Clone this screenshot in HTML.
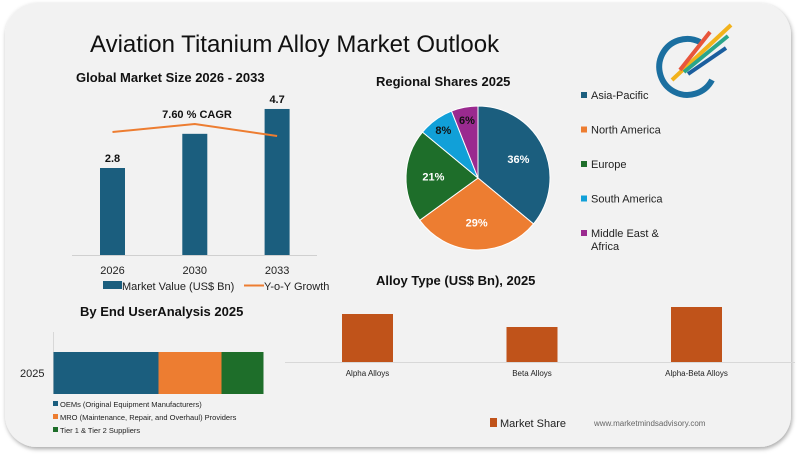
<!DOCTYPE html>
<html><head><meta charset="utf-8"><style>
body{margin:0;width:800px;height:454px;background:#fff;font-family:"Liberation Sans",sans-serif;overflow:hidden}
svg text{font-family:"Liberation Sans",sans-serif}
</style></head><body>
<svg id="s" width="800" height="454" viewBox="0 0 800 454">
<defs><filter id="sh" x="-5%" y="-5%" width="110%" height="110%"><feDropShadow dx="1" dy="2" stdDeviation="2" flood-color="#000" flood-opacity="0.35"/></filter></defs>
<rect x="5" y="3" width="786" height="444" rx="32" fill="#f2f2f2" filter="url(#sh)"/>
<text x="90" y="52" font-size="24" fill="#111">Aviation Titanium Alloy Market Outlook</text>
<g>
<path d="M700 42 A28 28 0 1 0 712 80" fill="none" stroke="#1b6fa0" stroke-width="6"/>
<line x1="672" y1="80" x2="731" y2="25" stroke="#f2b21b" stroke-width="4"/>
<line x1="680" y1="70" x2="710" y2="32" stroke="#e8553b" stroke-width="4"/>
<line x1="684" y1="72" x2="728" y2="36" stroke="#2aa58a" stroke-width="4"/>
<line x1="688" y1="74" x2="726" y2="48" stroke="#1b5e9e" stroke-width="4"/>
</g>
<text x="76" y="82" font-size="13" font-weight="bold" fill="#111">Global Market Size 2026 - 2033</text>
<text x="376" y="86" font-size="13" font-weight="bold" fill="#111">Regional Shares 2025</text>
<text x="376" y="285" font-size="13" font-weight="bold" fill="#111">Alloy Type (US$ Bn), 2025</text>
<text x="80" y="316" font-size="13" font-weight="bold" fill="#111">By End UserAnalysis 2025</text>
<line x1="72" y1="255.5" x2="317" y2="255.5" stroke="#d0d0d0"/>
<text x="197" y="118" font-size="11" font-weight="bold" text-anchor="middle" fill="#111">7.60 % CAGR</text>
<g id="bars"></g>
<g>
<rect x="103" y="281" width="19" height="8" fill="#1b5e7e"/><text x="122" y="290" font-size="11" fill="#222">Market Value (US$ Bn)</text>
<line x1="244" y1="285.5" x2="264" y2="285.5" stroke="#ed7d31" stroke-width="2"/><text x="264" y="290" font-size="11" fill="#222">Y-o-Y Growth</text>
</g>
<g id="pie"></g>
<g id="pieleg"></g>
<g id="alloy"></g>
<line x1="285" y1="362.5" x2="795" y2="362.5" stroke="#d8d8d8"/>
<rect x="490" y="418" width="7" height="9" fill="#c0531a"/>
<text x="500" y="427" font-size="11" fill="#222">Market Share</text>
<text x="594" y="426" font-size="8" fill="#666">www.marketmindsadvisory.com</text>
<line x1="53.5" y1="332" x2="53.5" y2="394" stroke="#d8d8d8"/>
<text x="20" y="377" font-size="11" fill="#222">2025</text>
<g id="stack"></g>
<g id="stackleg"></g>
</svg>
<script>
const years=["2026","2030","2033"];
const marketValues=[2.8,3.9,4.7];
const valueLabels=["2.8","","4.7"];
const growth=[4.3,4.6,4.15];
const regions=["Asia-Pacific","North America","Europe","South America","Middle East & Africa"];
const regionShares=[36,29,21,8,6];
const alloyTypes=["Alpha Alloys","Beta Alloys","Alpha-Beta Alloys"];
const alloyValues=[0.48,0.35,0.55];
const endUsers=["OEMs (Original Equipment Manufacturers)","MRO (Maintenance, Repair, and Overhaul) Providers","Tier 1 & Tier 2 Suppliers"];
const endUserShares=[50,30,20];

const NS="http://www.w3.org/2000/svg";
function mk(tag,attrs,parent,txt){const e=document.createElementNS(NS,tag);for(const k in attrs)e.setAttribute(k,attrs[k]);if(txt!==undefined)e.textContent=txt;parent.appendChild(e);return e;}

// bar chart
const bx=i=>112.5+i*82.3, by=v=>255-v*31.07, gy=v=>132-(v-4.3)*26.7;
const bars=document.getElementById('bars');
marketValues.forEach((v,i)=>{
 const r=mk('rect',{x:bx(i)-12.5,y:by(v),width:25,height:255-by(v),fill:'#1b5e7e'},bars);
 
 
 if(valueLabels[i]){const t=mk('text',{x:bx(i),y:by(v)-6,'font-size':11,'font-weight':'bold','text-anchor':'middle',fill:'#111'},bars,valueLabels[i]);
 
 }
 const yl=mk('text',{x:bx(i),y:274,'font-size':11,'text-anchor':'middle',fill:'#222'},bars,years[i]);
 
 
});
const gl=mk('polyline',{points:growth.map((g,i)=>bx(i)+','+gy(g)).join(' '),fill:'none',stroke:'#ed7d31','stroke-width':2},bars);



// pie
const pcols=['#1b5e7e','#ed7d31','#1e6e2a','#11a0d8','#9a2a8f'];
const cx=478,cy=178,R=72;
const pie=document.getElementById('pie'), pl=document.getElementById('pieleg');
const tot=regionShares.reduce((a,b)=>a+b,0);
let a0=-Math.PI/2;
regionShares.forEach((v,i)=>{
 const a1=a0+v/tot*2*Math.PI;
 const large=(a1-a0)>Math.PI?1:0;
 const p=mk('path',{d:`M${cx},${cy} L${cx+R*Math.cos(a0)},${cy+R*Math.sin(a0)} A${R},${R} 0 ${large} 1 ${cx+R*Math.cos(a1)},${cy+R*Math.sin(a1)} Z`,fill:pcols[i],stroke:'#fff','stroke-width':1},pie);
 
 
 const am=(a0+a1)/2, lr=v<10?R*0.82:R*0.62;
 const t=mk('text',{x:cx+lr*Math.cos(am),y:cy+lr*Math.sin(am)+4,'font-size':11,'font-weight':'bold','text-anchor':'middle',fill:v<10?'#111':'#fff'},pie,v+'%');
 
 
 a0=a1;
 const ly=98+i*34.5;
 const g=mk('g',{},pl);
 
 
 mk('rect',{x:581,y:ly-6,width:6,height:6,fill:pcols[i]},g);
 if(i===4){mk('text',{x:591,y:ly+1,'font-size':11,fill:'#222'},g,'Middle East &');mk('text',{x:591,y:ly+14,'font-size':11,fill:'#222'},g,'Africa');}
 else mk('text',{x:591,y:ly+1,'font-size':11,fill:'#222'},g,regions[i]);
});

// alloy bars
const al=document.getElementById('alloy');
const ax=i=>367.5+i*164.5, ah=v=>v*100;
alloyValues.forEach((v,i)=>{
 const r=mk('rect',{x:ax(i)-25.5,y:362-ah(v),width:51,height:ah(v),fill:'#c0531a'},al);
 
 
 const t=mk('text',{x:ax(i),y:376,'font-size':8,'text-anchor':'middle',fill:'#222'},al,alloyTypes[i]);
 
 
});

// stacked bar
const scols=['#1b5e7e','#ed7d31','#1e6e2a'];
const st=document.getElementById('stack'), sl=document.getElementById('stackleg');
let sx=53.5;const sw=v=>v*2.1;
endUserShares.forEach((v,i)=>{
 const r=mk('rect',{x:sx,y:352,width:sw(v),height:42,fill:scols[i]},st);
 
 
 sx+=sw(v);
 const g=mk('g',{},sl);
 
 
 mk('rect',{x:53,y:401+i*13,width:5,height:5,fill:scols[i]},g);
 mk('text',{x:60,y:407+i*13,'font-size':7.5,fill:'#222'},g,endUsers[i]);
});
</script>
</body></html>
